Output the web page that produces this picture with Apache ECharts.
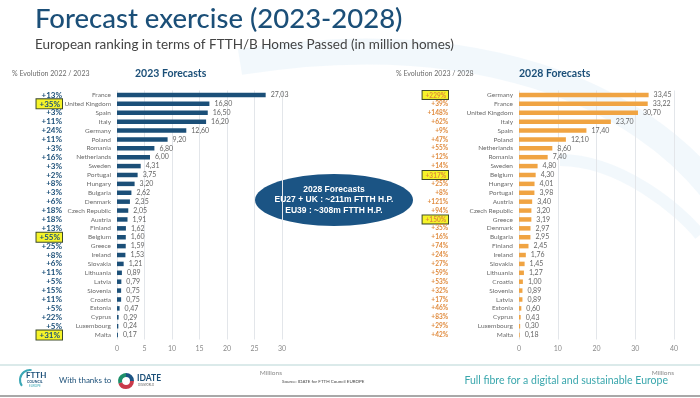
<!DOCTYPE html>
<html>
<head>
<meta charset="utf-8">
<script src="https://cdn.jsdelivr.net/npm/echarts@6/dist/echarts.min.js"></script>
<style>
  html, body { margin: 0; padding: 0; background: #fff; }
  #chart { width: 700px; height: 398px; }
</style>
</head>
<body>
<div id="chart"></div>
<script>
// 2023 ranking
const countries2023 = ['France', 'United Kingdom', 'Spain', 'Italy', 'Germany', 'Poland', 'Romania', 'Netherlands',
  'Sweden', 'Portugal', 'Hungary', 'Bulgaria', 'Denmark', 'Czech Republic', 'Austria', 'Finland', 'Belgium',
  'Greece', 'Ireland', 'Slovakia', 'Lithuania', 'Latvia', 'Slovenia', 'Croatia', 'Estonia', 'Cyprus',
  'Luxembourg', 'Malta'];
const values2023 = [27.03, 16.80, 16.50, 16.20, 12.60, 9.20, 6.80, 6.00, 4.31, 3.75, 3.20, 2.62, 2.35, 2.05,
  1.91, 1.62, 1.60, 1.59, 1.53, 1.21, 0.89, 0.79, 0.75, 0.75, 0.47, 0.29, 0.24, 0.17];
const evol2023 = ['+13%', '+35%', '+3%', '+11%', '+24%', '+11%', '+3%', '+16%', '+3%', '+2%', '+8%', '+3%', '+6%',
  '+18%', '+18%', '+13%', '+55%', '+25%', '+8%', '+6%', '+11%', '+5%', '+15%', '+11%', '+5%', '+22%', '+5%', '+31%'];
const highlight2023 = ['United Kingdom', 'Belgium', 'Malta'];

// 2028 ranking
const countries2028 = ['Germany', 'France', 'United Kingdom', 'Italy', 'Spain', 'Poland', 'Netherlands', 'Romania',
  'Sweden', 'Belgium', 'Hungary', 'Portugal', 'Austria', 'Czech Republic', 'Greece', 'Denmark', 'Bulgaria',
  'Finland', 'Ireland', 'Slovakia', 'Lithuania', 'Croatia', 'Slovenia', 'Latvia', 'Estonia', 'Cyprus',
  'Luxembourg', 'Malta'];
const values2028 = [33.45, 33.22, 30.70, 23.70, 17.40, 12.10, 8.60, 7.40, 4.80, 4.30, 4.01, 3.98, 3.40, 3.20,
  3.19, 2.97, 2.95, 2.45, 1.76, 1.45, 1.27, 1.00, 0.89, 0.89, 0.60, 0.43, 0.30, 0.18];
const evol2028 = ['+229%', '+39%', '+148%', '+62%', '+9%', '+47%', '+55%', '+12%', '+14%', '+317%', '+25%', '+8%',
  '+121%', '+94%', '+150%', '+35%', '+16%', '+74%', '+24%', '+27%', '+59%', '+53%', '+32%', '+17%', '+46%', '+83%',
  '+29%', '+42%'];
const highlight2028 = ['Germany', 'Belgium', 'Greece'];

const NAVY = '#1b4f78';
const ORANGE = '#f0a443';
const FONT = 'Lato, "Open Sans", sans-serif';

const chart = echarts.init(document.getElementById('chart'));

const fmt = v => v.toFixed(2).replace('.', ',');

function pctAxis(gridIndex, names, evol, hl, offset, color, size) {
  return {
    type: 'category', gridIndex: gridIndex, data: names, inverse: true, position: 'left', offset: offset,
    axisLine: {show: false}, axisTick: {show: false},
    axisLabel: {
      interval: 0, margin: 0, align: 'right', fontFamily: FONT,
      formatter: (v, i) => hl.includes(v) ? '{hl|' + evol[i] + '}' : '{n|' + evol[i] + '}',
      rich: {
        n: {color: color, fontSize: size, fontWeight: 'bold'},
        hl: {color: color, fontSize: size, fontWeight: 'bold', backgroundColor: '#f6f42a',
          borderColor: '#3d4a2a', borderWidth: 1, padding: [1, 2, 0, 3]}
      }
    }
  };
}

function nameAxis(gridIndex, names) {
  return {
    type: 'category', gridIndex: gridIndex, data: names, inverse: true,
    axisLine: {show: false}, axisTick: {show: false},
    axisLabel: {interval: 0, margin: 6, color: '#6b6b6b', fontSize: 6.5, fontFamily: FONT}
  };
}

function valueAxis(gridIndex, max, interval) {
  return {
    type: 'value', gridIndex: gridIndex, min: 0, max: max, interval: interval,
    axisLine: {show: false}, axisTick: {show: false},
    axisLabel: {color: '#8a8a8a', fontSize: 7, fontFamily: FONT, margin: 6},
    splitLine: {lineStyle: {color: '#e3e6ea', width: 1}}
  };
}

function barSeries(xi, yi, values, color) {
  return {
    type: 'bar', xAxisIndex: xi, yAxisIndex: yi, data: values, barWidth: 4.5,
    itemStyle: {color: color},
    label: {show: true, position: 'right', distance: 5, color: '#666', fontSize: 7, fontFamily: FONT,
      formatter: p => fmt(p.value)},
    animation: false
  };
}

const option = {
  backgroundColor: '#ffffff',
  animation: false,
  grid: [
    {left: 117, width: 165, top: 90.5, height: 249},
    {left: 519, width: 155, top: 90.5, height: 249}
  ],
  xAxis: [valueAxis(0, 30, 5), valueAxis(1, 40, 10)],
  yAxis: [
    nameAxis(0, countries2023),
    pctAxis(0, countries2023, evol2023, highlight2023, 55, NAVY, 8),
    nameAxis(1, countries2028),
    pctAxis(1, countries2028, evol2028, highlight2028, 71, '#e08a3c', 6.5)
  ],
  series: [
    barSeries(0, 0, values2023, NAVY),
    barSeries(1, 2, values2028, ORANGE)
  ],
  graphic: [
    // faint background swooshes
    {type: 'bezierCurve', z: -10, silent: true,
      shape: {x1: 240, y1: 62, x2: 720, y2: 200, cpx1: 470, cpy1: 25, cpx2: 640, cpy2: 90},
      style: {stroke: 'rgba(232,242,250,0.55)', lineWidth: 26, fill: null}},
    {type: 'bezierCurve', z: -10, silent: true,
      shape: {x1: 560, y1: 160, x2: 700, y2: 235, cpx1: 620, cpy1: 160, cpx2: 680, cpy2: 210},
      style: {stroke: 'rgba(232,242,250,0.55)', lineWidth: 12, fill: null}},
    // header
    {type: 'text', left: 35, top: 5, style: {text: 'Forecast exercise (2023-2028)', fill: NAVY, font: '500 27.5px ' + FONT}},
    {type: 'text', left: 35, top: 38, style: {text: 'European ranking in terms of FTTH/B Homes Passed (in million homes)', fill: '#444', font: '13.5px ' + FONT}},
    {type: 'text', left: 12, top: 70, style: {text: '% Evolution 2022 / 2023', fill: '#6b6b6b', font: '7px ' + FONT}},
    {type: 'text', left: 135, top: 68, style: {text: '2023 Forecasts', fill: NAVY, font: 'bold 10.5px ' + FONT}},
    {type: 'text', left: 396, top: 70, style: {text: '% Evolution 2023 / 2028', fill: '#6b6b6b', font: '7px ' + FONT}},
    {type: 'text', left: 519, top: 68, style: {text: '2028 Forecasts', fill: NAVY, font: 'bold 10.5px ' + FONT}},
    // axis units
    {type: 'text', x: 282, y: 369, style: {text: 'Millions', fill: '#8a8a8a', font: '6.5px ' + FONT, align: 'right'}},
    {type: 'text', x: 674, y: 369, style: {text: 'Millions', fill: '#8a8a8a', font: '6.5px ' + FONT, align: 'right'}},
    // centre bubble
    {type: 'ellipse', shape: {cx: 334, cy: 200, rx: 79, ry: 26}, style: {fill: '#1b5484'}},
    {type: 'text', x: 334, y: 200, style: {
      text: '2028 Forecasts\nEU27 + UK : ~211m FTTH H.P.\nEU39 : ~308m FTTH H.P.',
      fill: '#fff', font: 'bold 8.5px "Liberation Sans", Arial, sans-serif', align: 'center', verticalAlign: 'middle', lineHeight: 10.5}},
    // footer
    {type: 'line', shape: {x1: 0, y1: 365, x2: 700, y2: 365}, style: {stroke: '#cfe3e3', lineWidth: 1.5}},
    {type: 'line', shape: {x1: 0, y1: 396, x2: 700, y2: 396}, style: {stroke: '#a8a8a8', lineWidth: 2}},
    {type: 'arc', shape: {cx: 30, cy: 380, r: 10, startAngle: Math.PI * 0.8, endAngle: Math.PI * 1.55}, style: {stroke: '#3aa7b5', lineWidth: 2, fill: null}},
    {type: 'text', left: 26, top: 371, style: {text: 'FTTH', fill: NAVY, font: 'bold 8px ' + FONT}},
    {type: 'text', left: 27, top: 380, style: {text: 'COUNCIL', fill: NAVY, font: 'bold 3.5px ' + FONT}},
    {type: 'text', left: 29, top: 385, style: {text: 'EUROPE', fill: '#3aa7b5', font: '3px ' + FONT}},
    {type: 'text', left: 59, top: 376, style: {text: 'With thanks to', fill: NAVY, font: '8px ' + FONT}},
    {type: 'arc', shape: {cx: 126, cy: 381, r: 6, startAngle: 0, endAngle: Math.PI * 0.9}, style: {stroke: '#c93a4a', lineWidth: 4, fill: null}},
    {type: 'arc', shape: {cx: 126, cy: 381, r: 6, startAngle: Math.PI * 0.9, endAngle: Math.PI * 1.5}, style: {stroke: '#1d8f6a', lineWidth: 4, fill: null}},
    {type: 'arc', shape: {cx: 126, cy: 381, r: 6, startAngle: Math.PI * 1.5, endAngle: Math.PI * 2}, style: {stroke: '#1b5484', lineWidth: 4, fill: null}},
    {type: 'text', left: 137, top: 374, style: {text: 'IDATE', fill: NAVY, font: 'bold 8.5px ' + FONT}},
    {type: 'text', left: 138, top: 384, style: {text: 'DIGIWORLD', fill: '#6b6b6b', font: '2.8px ' + FONT}},
    {type: 'text', left: 282, top: 379, style: {text: 'Source: IDATE for FTTH Council EUROPE', fill: '#444', font: '4.5px ' + FONT}},
    {type: 'text', x: 668, y: 381, style: {text: 'Full fibre for a digital and sustainable Europe', fill: '#3aa7ad', font: '10.5px ' + FONT, align: 'right', verticalAlign: 'middle'}}
  ]
};

chart.setOption(option);
</script>
</body>
</html>
